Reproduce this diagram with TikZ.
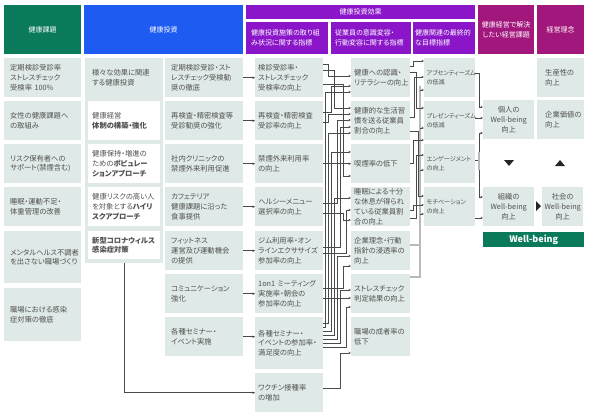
\documentclass[tikz,border=0pt]{standalone}
\usepackage{fontspec}
\setmainfont{Noto Sans CJK JP}[RawFeature=+palt]
\usetikzlibrary{arrows.meta}
\definecolor{hgreen}{HTML}{0B7A5B}
\definecolor{hblue}{HTML}{1E5BF3}
\definecolor{hpurp}{HTML}{8B16C9}
\definecolor{hmag}{HTML}{A2177C}
\definecolor{boxc}{HTML}{DFE9E7}
\definecolor{txt}{HTML}{505050}
\definecolor{lnc}{HTML}{4A4A4A}
\newcommand\bodyfont{\fontsize{7.3}{9.8}\selectfont}
\newcommand\smfont{\fontsize{6.1}{9.4}\selectfont}
\newcommand\headfont{\fontsize{7}{9.8}\selectfont}
\newcommand\lk[5]{\draw[arr] (#1.east |- 0,#2) -| (#3,#5) -- (#4.west |- 0,#5);}
\tikzset{
  base/.style={anchor=north west, inner ysep=0pt, font=\bodyfont, text=txt, align=left},
  b1/.style={base, fill=boxc, inner xsep=6pt, text width=65pt},
  b2/.style={base, inner xsep=4pt, text width=64pt},
  b3/.style={base, fill=boxc, inner xsep=6pt, text width=66pt},
  b4/.style={base, fill=boxc, inner xsep=3pt, text width=62pt},
  b5/.style={base, fill=boxc, inner xsep=3pt, text width=53pt},
  b6/.style={base, fill=boxc, inner xsep=2.5pt, text width=46pt, font=\smfont},
  wbx/.style={base, fill=boxc, inner xsep=0pt, align=center},
  b8/.style={base, fill=boxc, inner xsep=8pt, text width=31pt},
  hd/.style={anchor=north west, inner sep=0pt, text=white, font=\headfont, align=center},
  arr/.style={draw=lnc, line width=0.45pt, -{Stealth[length=2.6pt,width=2.4pt]}},
  ln/.style={draw=lnc, line width=0.45pt},
  bus/.style={draw=gray!55, line width=1.3pt},
  tri/.style={fill=black!85, draw=none}
}
\begin{document}
\begin{tikzpicture}[x=1pt,y=-1pt]
\useasboundingbox (0,0) rectangle (590,418);
% headers
\node[hd, fill=hgreen, minimum width=77pt, minimum height=49pt] (h1) at (4,5) {健康課題};
\node[hd, fill=hblue, minimum width=159pt, minimum height=49pt] (h2) at (84,5) {健康投資};
\node[hd, fill=hpurp, minimum width=229pt, minimum height=14pt] (h3) at (246,5) {健康投資効果};
\node[hd, fill=hpurp, minimum width=82pt, minimum height=32pt, inner xsep=5pt, text width=72pt, align=left] (h3a) at (246,22) {健康投資施策の取り組\\み状況に関する指標};
\node[hd, fill=hpurp, minimum width=80pt, minimum height=32pt, inner xsep=4pt, text width=72pt, align=left] (h3b) at (331,22) {従業員の意識変容・\\行動変容に関する指標};
\node[hd, fill=hpurp, minimum width=62pt, minimum height=32pt, inner xsep=2pt, text width=58pt, align=left] (h3c) at (413,22) {健康関連の最終的\\な目標指標};
\node[hd, fill=hmag, minimum width=56pt, minimum height=49pt] (h4) at (478,5) {健康経営で解決\\したい経営課題};
\node[hd, fill=hmag, minimum width=47pt, minimum height=49pt] (h5) at (537,5) {経営理念};
% column 1
\node[b1, minimum height=39pt] (k11) at (4,58) {定期検診受診率\\ストレスチェック\\受検率 100\%};
\node[b1, minimum height=39pt] (k12) at (4,101) {女性の健康課題へ\\の取組み};
\node[b1, minimum height=39pt] (k13) at (4,144) {リスク保有者への\\サポート(禁煙含む)};
\node[b1, minimum height=39pt] (k14) at (4,187) {睡眠・運動不足・\\体重管理の改善};
\node[b1, minimum height=52pt] (k15) at (4,231) {メンタルヘルス不調者\\を出さない職場づくり};
\node[b1, minimum height=53pt] (k16) at (4,288) {職場における感染\\症対策の徹底};
% column 2
\node[anchor=north west, fill=boxc, inner sep=0pt, minimum width=78pt, minimum height=205pt] (g2) at (85,58) {};
\node[b2, minimum height=39pt] (k21) at (88,58) {様々な効果に関連\\する健康投資};
\node[b2, fill=white, minimum height=39pt] (k22) at (88,101) {健康経営\\\textbf{体制の構築・強化}};
\node[b2, fill=white, minimum height=39pt] (k23) at (88,144) {健康保持・増進の\\ための\textbf{ポピュレー}\\\textbf{ションアプローチ}};
\node[b2, fill=white, minimum height=39pt] (k24) at (88,187) {健康リスクの高い人\\を対象とする\textbf{ハイリ}\\\textbf{スクアプローチ}};
\node[b2, fill=white, minimum height=28pt] (k25) at (88,231) {\textbf{新型コロナウィルス}\\\textbf{感染症対策}};
% column 3
\node[b3, minimum height=39pt] (c31) at (165,58) {定期検診受診・スト\\レスチェック受検勧\\奨の徹底};
\node[b3, minimum height=39pt] (c32) at (165,101) {再検査・精密検査等\\受診勧奨の強化};
\node[b3, minimum height=39pt] (c33) at (165,144) {社内クリニックの\\禁煙外来利用促進};
\node[b3, minimum height=39pt] (c34) at (165,187) {カフェテリア\\健康課題に沿った\\食事提供};
\node[b3, minimum height=39pt] (c35) at (165,231) {フィットネス\\運営及び運動機会\\の提供};
\node[b3, minimum height=39pt] (c36) at (165,274) {コミュニケーション\\強化};
\node[b3, minimum height=39pt] (c37) at (165,317) {各種セミナー・\\イベント実施};
% column 4
\node[b4, minimum height=39pt] (c41) at (255,58) {検診受診率・\\ストレスチェック\\受検率の向上};
\node[b4, minimum height=39pt] (c42) at (255,101) {再検査・精密検査\\受診率の向上};
\node[b4, minimum height=39pt] (c43) at (255,144) {禁煙外来利用率\\の向上};
\node[b4, minimum height=39pt] (c44) at (255,187) {ヘルシーメニュー\\選択率の向上};
\node[b4, minimum height=39pt] (c45) at (255,231) {ジム利用率・オン\\ラインエクササイズ\\参加率の向上};
\node[b4, minimum height=39pt] (c46) at (255,274) {1on1 ミーティング\\実施率・朝会の\\参加率の向上};
\node[b4, minimum height=52pt] (c47) at (255,317) {各種セミナー・\\イベントの参加率・\\満足度の向上};
\node[b4, minimum height=39pt] (c48) at (255,373) {ワクチン接種率\\の増加};
% column 5
\node[b5, minimum height=39pt] (c51) at (351,58) {健康への認識・\\リテラシーの向上};
\node[b5, minimum height=39pt] (c52) at (351,101) {健康的な生活習\\慣を送る従業員\\割合の向上};
\node[b5, minimum height=39pt] (c53) at (351,144) {喫煙率の低下};
\node[b5, minimum height=39pt] (c54) at (351,187) {睡眠による十分\\な休息が得られ\\ている従業員割\\合の向上};
\node[b5, minimum height=39pt] (c55) at (351,231) {企業理念・行動\\指針の浸透率の\\向上};
\node[b5, minimum height=39pt] (c56) at (351,274) {ストレスチェック\\判定結果の向上};
\node[b5, minimum height=39pt] (c57) at (351,317) {職場の成者率の\\低下};
% column 6
\node[b6, minimum height=39pt] (c61) at (424,58) {アブセンティーズム\\の低減};
\node[b6, minimum height=39pt] (c62) at (424,101) {プレゼンティーズム\\の低減};
\node[b6, minimum height=39pt] (c63) at (424,144) {エンゲージメント\\の向上};
\node[b6, minimum height=39pt] (c64) at (424,187) {モチベーション\\の向上};
% column 7/8
\node[wbx, minimum width=51pt, minimum height=39pt] (p1) at (483,100) {個人の\\Well-being\\向上};
\node[wbx, minimum width=51pt, minimum height=39pt] (org) at (483,187) {組織の\\Well-being\\向上};
\node[wbx, minimum width=41pt, minimum height=39pt] (soc) at (542,187) {社会の\\Well-being\\向上};
\node[b8, minimum height=39pt] (prod) at (537,58) {生産性の\\向上};
\node[b8, minimum height=39pt] (val) at (537,100) {企業価値の\\向上};
\node[hd, fill=hgreen, minimum width=101pt, minimum height=15pt, font=\fontsize{9}{10}\selectfont\bfseries] (wb) at (483,232) {Well-being};
% triangles
\fill[tri] (504,160) -- (514,160) -- (509,166) -- cycle;
\fill[tri] (555,166) -- (565,166) -- (560,160) -- cycle;
\fill[tri] (536,201) -- (536,211) -- (541,206) -- cycle;
% col3 -> col4
\foreach \i in {1,...,7} \draw[arr] (c3\i.east) -- (c4\i.west |- c3\i.east);
\draw[arr] (g2.south -| k25.south) |- (c48.west);
% col4 -> col5
\lk{c41}{64}{328}{c51}{76}
\lk{c41}{70}{334}{c52}{108}
\lk{c41}{84}{343}{c53}{176}
\lk{c42}{112}{331}{c51}{86}
\lk{c42}{122}{328}{c52}{114}
\draw[arr] (c43.east) -- (c53.west |- c43.east);
\lk{c44}{203}{337}{c52}{120}
\lk{c44}{213}{343}{c54}{220}
\lk{c45}{247}{340}{c52}{127}
\lk{c45}{253}{346}{c54}{210}
\draw[arr] (c46.east |- 0,298) -- (c56.west |- 0,298);
\lk{c46}{288}{343}{c55}{266}
\lk{c47}{327}{325}{c51}{92}
\lk{c47}{323}{328}{c52}{133}
\lk{c47}{331}{331}{c53}{152}
\lk{c47}{335}{334}{c54}{198}
\lk{c47}{339}{337}{c55}{256}
\lk{c47}{343}{340}{c56}{290}
\lk{c47}{347}{346}{c56}{307}
\lk{c48}{388}{340}{c57}{353}
% col5 -> col6
\draw[bus] (c55.east |- 0,245) -| (420,86);
\draw[bus] (c56.east |- 0,277) -| (420,245);
\foreach \y/\t in {90/c61,128/c62,170/c63,214/c64} \draw[arr] (420,\y) -- (\t.west |- 0,\y);
\lk{c51}{66}{413}{c61}{61}
\lk{c51}{72}{416}{c62}{108}
\lk{c52}{117}{414}{c61}{77}
\lk{c53}{163}{413}{c63}{140}
\lk{c54}{218}{416}{c63}{155}
\lk{c52}{131}{418}{c64}{196}
\lk{c54}{210}{413}{c64}{205}
% col6 -> col7
\draw[arr] (c61.east |- 0,73) -| (479,107) -- (p1.west |- 0,107);
\draw[arr] (c62.east |- 0,118) -- (p1.west |- 0,118);
\draw[arr] (c63.east |- 0,160) -| (479,133) -- (p1.west |- 0,133);
\draw[arr] (479,160) |- (org.west |- 0,197);
\draw[bus] (479,152) -- (479,170);
\draw[arr] (c64.east |- 0,218) -- (org.west |- 0,218);
\end{tikzpicture}
\end{document}
